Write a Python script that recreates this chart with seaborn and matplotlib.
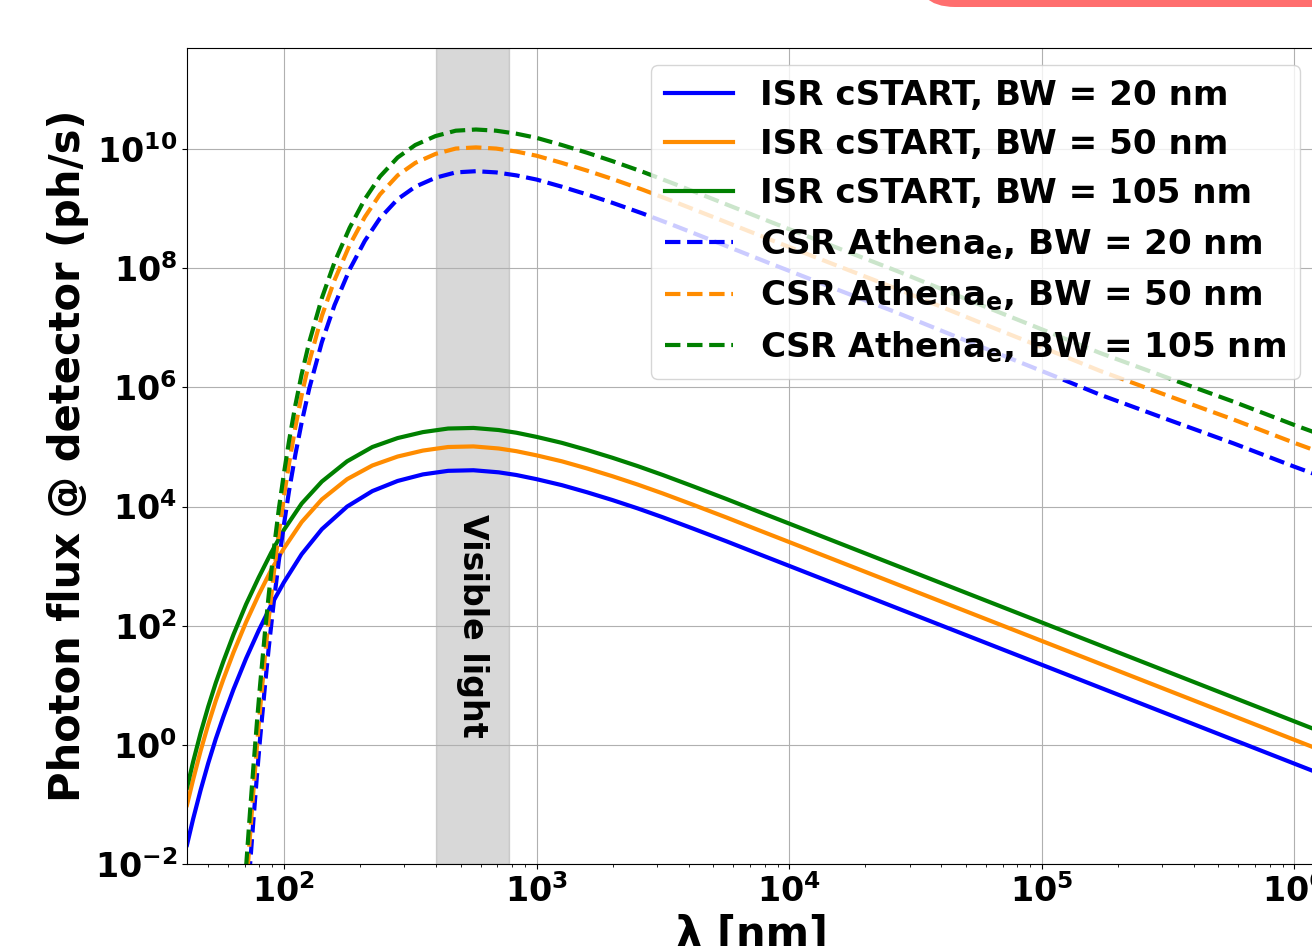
import numpy as np
import pandas as pd
import matplotlib.pyplot as plt
import seaborn as sns
from matplotlib.patches import FancyBboxPatch

# values, stored as log10(lambda [nm]) / log10(flux [ph/s])
lam_isr = [1.616, 1.64, 1.67, 1.70, 1.73, 1.76, 1.80, 1.85, 1.90, 1.95, 2.00, 2.07, 2.15, 2.25,
           2.35, 2.45, 2.55, 2.65, 2.75, 2.85, 2.92, 3.00, 3.10, 3.20, 3.30, 3.40, 3.50, 3.62,
           3.75, 3.87, 4.00, 4.25, 4.50, 5.00, 5.50, 6.00, 6.20]
isr_20 = [-1.68, -1.25, -0.76, -0.31, 0.10, 0.47, 0.93, 1.45, 1.92, 2.35, 2.73, 3.20, 3.62, 4.00,
          4.26, 4.43, 4.54, 4.60, 4.61, 4.575, 4.53, 4.46, 4.36, 4.24, 4.11, 3.97, 3.82, 3.63,
          3.42, 3.22, 3.005, 2.59, 2.175, 1.345, 0.515, -0.315, -0.647]
isr_50 = [-1.01, -0.59, -0.10, 0.34, 0.74, 1.10, 1.55, 2.06, 2.52, 2.94, 3.30, 3.74, 4.12, 4.46,
          4.69, 4.84, 4.94, 5.00, 5.01, 4.975, 4.93, 4.86, 4.76, 4.64, 4.51, 4.37, 4.22, 4.03,
          3.82, 3.62, 3.405, 2.99, 2.575, 1.745, 0.915, 0.085, -0.247]
isr_105 = [-0.72, -0.29, 0.20, 0.64, 1.04, 1.40, 1.85, 2.36, 2.81, 3.23, 3.61, 4.05, 4.42, 4.76,
           5.00, 5.15, 5.25, 5.31, 5.32, 5.285, 5.24, 5.17, 5.07, 4.95, 4.82, 4.68, 4.53, 4.34,
           4.13, 3.93, 3.715, 3.30, 2.885, 2.055, 1.225, 0.395, 0.063]

lam_csr = [1.850, 1.866, 1.879, 1.893, 1.905, 1.925, 1.94, 1.96, 1.98, 2.00, 2.02, 2.045, 2.07, 2.10,
           2.15, 2.20, 2.26, 2.32, 2.38, 2.45, 2.52, 2.60, 2.68, 2.76, 2.84, 2.92, 3.00, 3.10, 3.20,
           3.30, 3.42, 3.55, 3.70, 3.92, 4.15, 4.43, 4.75, 5.045, 5.23, 5.50, 5.76, 6.00, 6.20]
csr_20 = [-2.95, -2.0, -1.27, -0.52, 0.08, 1.00, 1.64, 2.41, 3.10, 3.70, 4.26, 4.87, 5.41, 5.98,
          6.76, 7.38, 7.98, 8.46, 8.84, 9.16, 9.37, 9.52, 9.61, 9.63, 9.61, 9.56, 9.49, 9.37, 9.24,
          9.10, 8.92, 8.71, 8.46, 8.09, 7.71, 7.25, 6.70, 6.20, 5.88, 5.46, 5.06, 4.67, 4.36]
csr_50 = [-2.45, -1.5, -0.77, -0.02, 0.58, 1.50, 2.13, 2.89, 3.57, 4.17, 4.72, 5.33, 5.87, 6.43,
          7.20, 7.80, 8.39, 8.86, 9.24, 9.56, 9.77, 9.92, 10.01, 10.03, 10.01, 9.96, 9.89, 9.77, 9.64,
          9.50, 9.32, 9.11, 8.86, 8.49, 8.11, 7.65, 7.10, 6.60, 6.28, 5.86, 5.46, 5.07, 4.76]
csr_105 = [-2.05, -1.1, -0.37, 0.38, 0.98, 1.90, 2.53, 3.29, 3.97, 4.56, 5.10, 5.70, 6.22, 6.76,
           7.50, 8.10, 8.68, 9.16, 9.54, 9.86, 10.07, 10.22, 10.31, 10.33, 10.31, 10.26, 10.19, 10.07, 9.94,
           9.80, 9.62, 9.41, 9.16, 8.79, 8.41, 7.95, 7.40, 6.90, 6.58, 6.16, 5.76, 5.37, 5.06]

bandwidths = ['20', '50', '105']
colors = ['blue', 'darkorange', 'green']
visible = (400, 780)

plt.rcParams['font.family'] = ['DejaVu Sans']
plt.rcParams['font.weight'] = 'bold'
plt.rcParams['axes.labelweight'] = 'bold'

fig = plt.figure(figsize=(13.12, 9.46), dpi=100)
ax = fig.add_axes([0.1425, 0.0867, 0.8613, 0.8626])
ax.set_xscale('log')
ax.set_yscale('log')

ax.axvspan(*visible, color='gray', alpha=0.3)
ax.text(560, 1e2, 'Visible light', rotation=270, ha='center', va='center',
        fontsize=24, fontweight='bold')

for bw, c, vals in zip(bandwidths, colors, [isr_20, isr_50, isr_105]):
    df = pd.DataFrame({'lam': 10 ** np.array(lam_isr), 'flux': 10 ** np.array(vals)})
    sns.lineplot(data=df, x='lam', y='flux', color=c, lw=3, ax=ax,
                 label=f'ISR cSTART, BW = {bw} nm')
for bw, c, vals in zip(bandwidths, colors, [csr_20, csr_50, csr_105]):
    df = pd.DataFrame({'lam': 10 ** np.array(lam_csr), 'flux': 10 ** np.array(vals)})
    sns.lineplot(data=df, x='lam', y='flux', color=c, lw=3, ls='--', ax=ax,
                 label=r'CSR Athena$_{\mathdefault{e}}$, BW = ' + f'{bw} nm')

ax.set_xlim(41.3, 1.23e6)
ax.set_ylim(1e-2, 5e11)
ax.grid(True, which='major')
ax.set_xlabel('λ [nm]', fontsize=30)
ax.set_ylabel('Photon flux @ detector (ph/s)', fontsize=30)
ax.tick_params(axis='both', which='major', labelsize=24)
ax.legend(loc='upper right', fontsize=24.6, labelspacing=0.47)

# bit of the slide element above the plot
fig.add_artist(FancyBboxPatch((9.15, 9.39), 5.0, 1.0, boxstyle='round,pad=0,rounding_size=0.4',
                              transform=fig.dpi_scale_trans, color='#ff6e6e', lw=0))

fig.savefig('out.png', dpi=100)
